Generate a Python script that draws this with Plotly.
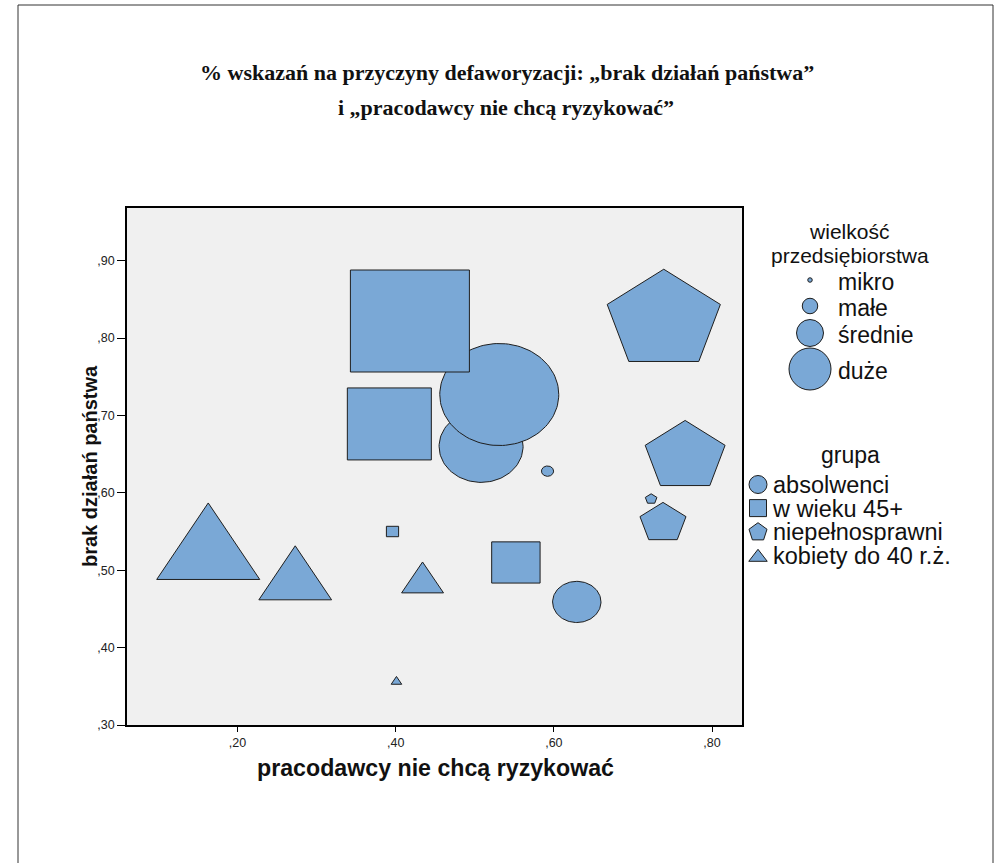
import numpy as np
import plotly.graph_objects as go

# ---------------- data ----------------
size_levels = ["mikro", "małe", "średnie", "duże"]
groups = ["absolwenci", "w wieku 45+", "niepełnosprawni", "kobiety do 40 r.ż."]

# x = "pracodawcy nie chcą ryzykować", y = "brak działań państwa"; order follows size_levels
absolwenci_x = [0.592, 0.629, 0.508, 0.531]
absolwenci_y = [0.628, 0.459, 0.660, 0.727]
wiek45_x = [0.396, 0.552, 0.392, 0.418]
wiek45_y = [0.550, 0.510, 0.689, 0.822]
niepelnosprawni_x = [0.723, 0.738, 0.766, 0.739]
niepelnosprawni_y = [0.592, 0.561, 0.647, 0.823]
kobiety_x = [0.401, 0.434, 0.273, 0.163]
kobiety_y = [0.356, 0.484, 0.485, 0.521]

x_ticks = [0.2, 0.4, 0.6, 0.8]
x_tick_labels = [",20", ",40", ",60", ",80"]
y_ticks = [0.3, 0.4, 0.5, 0.6, 0.7, 0.8, 0.9]
y_tick_labels = [",30", ",40", ",50", ",60", ",70", ",80", ",90"]

title_line1 = "% wskazań na przyczyny defaworyzacji: „brak działań państwa”"
title_line2 = "i „pracodawcy nie chcą ryzykować”"
x_title = "pracodawcy nie chcą ryzykować"
y_title = "brak działań państwa"
size_legend_title = ["wielkość", "przedsiębiorstwa"]
group_legend_title = "grupa"

# ---------------- style / layout ----------------
W, H = 996, 863            # reference picture size; all pixel positions below are in it
FIG_H = 870                # page height that the browser captures (then scaled to 863)
PL, PR, PT, PB = 127, 742, 208, 725          # plot area in reference pixels
X_RANGE = [0.0603, 0.8379]
Y_RANGE = [0.300, 0.968]
FILL = "#7AA8D6"
EDGE = "#1e1e1e"
SANS = "Liberation Sans, Arial, sans-serif"
SERIF = "Liberation Serif, Times New Roman, serif"

# marker half-sizes in pixels (SPSS scales them with the plot frame)
size_px = {"mikro": (6.1, 5.2), "małe": (24.2, 20.6), "średnie": (42.0, 36.0), "duże": (59.5, 51.0)}
x_per_px = (X_RANGE[1] - X_RANGE[0]) / (PR - PL)
y_per_px = (Y_RANGE[1] - Y_RANGE[0]) / (PB - PT)

shape_of = {"absolwenci": "circle", "w wieku 45+": "square",
            "niepełnosprawni": "pentagon", "kobiety do 40 r.ż.": "triangle"}
group_data = {
    "absolwenci": (absolwenci_x, absolwenci_y),
    "w wieku 45+": (wiek45_x, wiek45_y),
    "niepełnosprawni": (niepelnosprawni_x, niepelnosprawni_y),
    "kobiety do 40 r.ż.": (kobiety_x, kobiety_y),
}


def outline(kind, cx, cy, rx, ry):
    if kind == "square":
        return ([cx - rx, cx + rx, cx + rx, cx - rx, cx - rx],
                [cy - ry, cy - ry, cy + ry, cy + ry, cy - ry])
    if kind == "circle":
        t = np.linspace(0, 2 * np.pi, 121)
    elif kind == "pentagon":
        t = np.deg2rad(90 + 72 * np.arange(6))
    else:  # triangle
        t = np.deg2rad(90 + 120 * np.arange(4))
    return list(cx + rx * np.cos(t)), list(cy + ry * np.sin(t))


fig = go.Figure()

for g in groups:
    xs, ys = group_data[g]
    for lvl, xv, yv in zip(size_levels, xs, ys):
        rxp, ryp = size_px[lvl]
        px_, py_ = outline(shape_of[g], xv, yv, rxp * x_per_px, ryp * y_per_px)
        fig.add_trace(go.Scatter(
            x=px_, y=py_, mode="lines", fill="toself", fillcolor=FILL,
            line=dict(color=EDGE, width=1), showlegend=False,
            name=f"{g} – {lvl}", hoverinfo="skip", xaxis="x", yaxis="y"))

# ---------------- legends (drawn on a pixel overlay axis) ----------------
leg_size_y = [280, 306, 333, 369]
leg_size_d = [4.5, 15.5, 27, 42]
fig.add_trace(go.Scatter(
    x=[810] * 4, y=leg_size_y, mode="markers", opacity=1,
    marker=dict(symbol="circle", size=leg_size_d, color=FILL, opacity=1,
                line=dict(color=EDGE, width=1)),
    showlegend=False, hoverinfo="skip", xaxis="x2", yaxis="y2"))

GRP_ROW0, GRP_STEP = 484.5, 23.6
leg_grp_y = [GRP_ROW0 + i * GRP_STEP for i in range(4)]
leg_grp_sym = ["circle", "square", "pentagon", "triangle-up"]
leg_grp_size = [18, 17, 19, 16]
leg_grp_off = [0, 0, 0.5, 2]
fig.add_trace(go.Scatter(
    x=[758] * 4, y=[a + b for a, b in zip(leg_grp_y, leg_grp_off)], mode="markers", opacity=1,
    marker=dict(symbol=leg_grp_sym, size=leg_grp_size, color=FILL, opacity=1,
                line=dict(color=EDGE, width=1)),
    showlegend=False, hoverinfo="skip", xaxis="x2", yaxis="y2"))

annotations = []


def ann(text, px, py, size, family=SANS, xanchor="center", angle=0, align="center"):
    annotations.append(dict(
        text=text, x=px / W, y=1 - py / H, xref="paper", yref="paper",
        xanchor=xanchor, yanchor="middle", showarrow=False, textangle=angle, align=align,
        font=dict(family=family, size=size, color="#111111")))


def tight_lines(lines, glyph_px, line_step_px):
    # one text block whose line step is set by the base font size (Plotly uses 1.3 em)
    body = "<br>".join(f'<span style="font-size:{glyph_px}px">{s}</span>' for s in lines)
    return body, line_step_px / 1.3


ann(f"<b>{title_line1}</b>", 507, 72, 22, SERIF)
ann(f"<b>{title_line2}</b>", 506, 107, 22, SERIF)
ann(f"<b>{x_title}</b>", 435, 768, 23.2)
ann(f"<b>{y_title}</b>", 90, 466, 20, angle=-90)

txt, base = tight_lines(size_legend_title, 21, 24)
ann(txt, 850, 243.5, base)
for lvl, yy in zip(size_levels, leg_size_y):
    ann(lvl, 836, yy + 2, 23, xanchor="left")

ann(group_legend_title, 850, 455, 23)
txt, base = tight_lines(groups, 23.5, GRP_STEP)
ann(txt, 770, (leg_grp_y[0] + leg_grp_y[-1]) / 2 + 1, base, xanchor="left", align="left")

axis_common = dict(showgrid=False, zeroline=False, showline=True, linecolor="black",
                   linewidth=1.5, mirror=True, ticks="outside", tickcolor="black",
                   tickwidth=1.2, tickfont=dict(family=SANS, size=12.5, color="#222222"))

fig.update_layout(
    width=W, height=FIG_H,
    margin=dict(l=0, r=0, t=0, b=0),
    paper_bgcolor="white",
    plot_bgcolor="rgba(0,0,0,0)",
    xaxis=dict(domain=[PL / W, PR / W], range=X_RANGE, tickvals=x_ticks,
               ticktext=x_tick_labels, ticklen=5, anchor="y", **axis_common),
    yaxis=dict(domain=[1 - PB / H, 1 - PT / H], range=Y_RANGE, tickvals=y_ticks,
               ticktext=y_tick_labels, ticklen=8, anchor="x", **axis_common),
    xaxis2=dict(domain=[0, 1], range=[0, W], visible=False, anchor="y2", fixedrange=True),
    yaxis2=dict(domain=[0, 1], range=[H, 0], visible=False, anchor="x2", fixedrange=True),
    annotations=annotations,
    shapes=[
        dict(type="rect", xref="x domain", yref="y domain", x0=0, x1=1, y0=0, y1=1,
             fillcolor="#F0F0F0", line=dict(width=0), layer="below"),
        dict(type="line", xref="paper", yref="paper", x0=18 / W, x1=18 / W, y0=0, y1=1 - 5 / H,
             line=dict(color="#333333", width=1)),
        dict(type="line", xref="paper", yref="paper", x0=18 / W, x1=993 / W, y0=1 - 5 / H, y1=1 - 5 / H,
             line=dict(color="#333333", width=1)),
        dict(type="line", xref="paper", yref="paper", x0=993 / W, x1=993 / W, y0=0, y1=1 - 5 / H,
             line=dict(color="#333333", width=1)),
    ],
    showlegend=False,
)

post = ("document.body.style.margin='0';document.body.style.overflow='hidden';"
        "document.documentElement.style.overflow='hidden';")
fig.write_html("out.html", config={"displayModeBar": False}, post_script=post)
